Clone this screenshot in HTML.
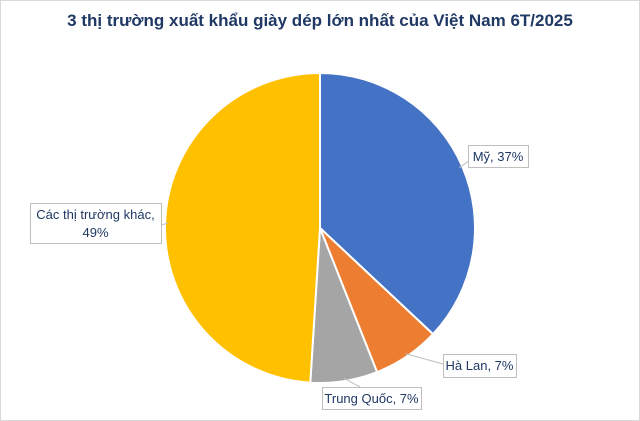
<!DOCTYPE html>
<html><head><meta charset="utf-8"><style>
body{margin:0;background:#fff;}
svg{display:block;font-family:"Liberation Sans","DejaVu Sans",sans-serif;}
</style></head><body>
<svg id="chart" width="640" height="421">
<rect x="0.5" y="0.5" width="639" height="420" fill="#fff" stroke="#d9d9d9"/>
<text x="320" y="26" text-anchor="middle" font-size="17" font-weight="bold" fill="#1f3864">3 thị trường xuất khẩu giày dép lớn nhất của Việt Nam 6T/2025</text>
<g id="slices"></g>
<g id="labels"></g>
</svg>
<script>
const categories=["Mỹ","Hà Lan","Trung Quốc","Các thị trường khác"];
const values=[37,7,7,49];
const colors=["#4472c4","#ed7d31","#a5a5a5","#ffc000"];
const cx=320,cy=228,r=155;
const NS="http://www.w3.org/2000/svg";
const total=values.reduce((a,b)=>a+b,0);
function pt(frac,rad){const a=frac*2*Math.PI;return [cx+rad*Math.sin(a),cy-rad*Math.cos(a)];}
const sg=document.getElementById('slices'),lg=document.getElementById('labels');
const boxes=[{x:468,y:145,w:60,h:22,anchor:[470,160]},{x:443,y:354,w:73,h:23,anchor:[443,364]},{x:322,y:387,w:99,h:22,anchor:[360,387]},{x:30,y:203,w:131,h:40,anchor:[160,225]}];
let acc=0;
values.forEach((v,i)=>{
 const f0=acc/total,f1=(acc+v)/total;acc+=v;
 const p0=pt(f0,r),p1=pt(f1,r);
 const large=(f1-f0)>0.5?1:0;
 const p=document.createElementNS(NS,'path');
 p.setAttribute('d',`M${cx},${cy}L${p0[0]},${p0[1]}A${r},${r} 0 ${large} 1 ${p1[0]},${p1[1]}Z`);
 p.setAttribute('fill',colors[i]);p.setAttribute('stroke','#fff');p.setAttribute('stroke-width','2');
 
 
 sg.appendChild(p);
 const b=boxes[i];
 const mid=pt((f0+f1)/2,r*0.98);
 const ln=document.createElementNS(NS,'polyline');
 ln.setAttribute('points',`${mid[0]},${mid[1]} ${b.anchor[0]},${b.anchor[1]}`);
 ln.setAttribute('stroke','#bfbfbf');ln.setAttribute('fill','none');
 
 
 lg.appendChild(ln);
 const rc=document.createElementNS(NS,'rect');
 rc.setAttribute('x',b.x+.5);rc.setAttribute('y',b.y+.5);rc.setAttribute('width',b.w);rc.setAttribute('height',b.h);
 rc.setAttribute('fill','#fff');rc.setAttribute('stroke','#bfbfbf');
 
 
 lg.appendChild(rc);
 const t=document.createElementNS(NS,'text');
 t.setAttribute('text-anchor','middle');t.setAttribute('font-size','13');t.setAttribute('fill','#1f3864');
 
 
 const txt=categories[i]+', '+v+'%';
 if(b.h>30){
  const s1=document.createElementNS(NS,'tspan');s1.setAttribute('x',b.x+b.w/2);s1.setAttribute('y',b.y+16);s1.textContent=categories[i]+',';t.appendChild(s1);
  const s2=document.createElementNS(NS,'tspan');s2.setAttribute('x',b.x+b.w/2);s2.setAttribute('y',b.y+34);s2.textContent=v+'%';t.appendChild(s2);
 } else {t.setAttribute('x',b.x+b.w/2);t.setAttribute('y',b.y+16);t.textContent=txt;}
 lg.appendChild(t);
});
</script>
</body></html>
